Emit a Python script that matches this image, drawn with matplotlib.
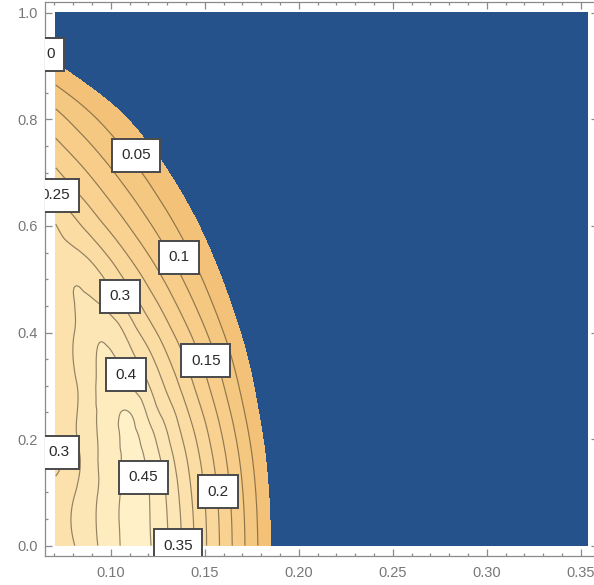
import numpy as np
import matplotlib
matplotlib.use('Agg')
import matplotlib.pyplot as plt
import matplotlib.tri as mtri

# sample positions of the field
X_COLS = [0.0707, 0.08, 0.09, 0.10, 0.11, 0.12, 0.13, 0.14, 0.15, 0.16,
          0.17, 0.18, 0.19, 0.20, 0.25, 0.30, 0.3536]
Y_ROWS = [0.0, 0.1, 0.15, 0.2, 0.25, 0.3, 0.4, 0.45, 0.5, 0.55, 0.6, 0.65,
          0.7, 0.75, 0.8, 0.85, 0.9, 0.95, 1.0]

# estimated values, one row per Y_ROWS entry (below 0 shows as the flat blue region)
Z_ROWS = [
    [0.322, 0.347, 0.388, 0.428, 0.465, 0.455, 0.404, 0.331, 0.257, 0.184, 0.110, 0.037, -0.037, -0.110, -0.478, -0.845, -1.239],
    [0.316, 0.345, 0.388, 0.428, 0.465, 0.452, 0.394, 0.321, 0.248, 0.175, 0.102, 0.029, -0.044, -0.117, -0.482, -0.847, -1.238],
    [0.293, 0.328, 0.385, 0.427, 0.463, 0.443, 0.380, 0.308, 0.236, 0.164, 0.092, 0.020, -0.052, -0.124, -0.484, -0.844, -1.230],
    [0.305, 0.340, 0.388, 0.430, 0.460, 0.425, 0.357, 0.287, 0.217, 0.147, 0.077, 0.007, -0.063, -0.133, -0.483, -0.833, -1.208],
    [0.310, 0.341, 0.388, 0.432, 0.450, 0.390, 0.326, 0.259, 0.192, 0.125, 0.058, -0.009, -0.076, -0.143, -0.478, -0.813, -1.170],
    [0.315, 0.342, 0.388, 0.428, 0.405, 0.353, 0.290, 0.227, 0.164, 0.101, 0.038, -0.025, -0.088, -0.151, -0.466, -0.781, -1.119],
    [0.320, 0.347, 0.388, 0.383, 0.330, 0.274, 0.218, 0.162, 0.106, 0.050, -0.006, -0.062, -0.118, -0.174, -0.454, -0.734, -1.034],
    [0.323, 0.348, 0.360, 0.330, 0.282, 0.230, 0.178, 0.126, 0.074, 0.022, -0.030, -0.082, -0.134, -0.186, -0.446, -0.706, -0.985],
    [0.325, 0.346, 0.328, 0.284, 0.236, 0.188, 0.140, 0.092, 0.044, -0.004, -0.052, -0.100, -0.148, -0.196, -0.436, -0.676, -0.933],
    [0.315, 0.310, 0.280, 0.236, 0.191, 0.147, 0.103, 0.059, 0.015, -0.029, -0.073, -0.117, -0.161, -0.205, -0.425, -0.645, -0.880],
    [0.302, 0.268, 0.228, 0.188, 0.148, 0.108, 0.068, 0.028, -0.012, -0.052, -0.092, -0.132, -0.172, -0.212, -0.412, -0.612, -0.826],
    [0.255, 0.220, 0.183, 0.146, 0.109, 0.072, 0.035, -0.002, -0.039, -0.076, -0.113, -0.150, -0.187, -0.224, -0.409, -0.594, -0.792],
    [0.208, 0.176, 0.142, 0.107, 0.072, 0.038, 0.003, -0.031, -0.066, -0.100, -0.135, -0.169, -0.204, -0.238, -0.411, -0.583, -0.768],
    [0.163, 0.133, 0.101, 0.068, 0.036, 0.003, -0.029, -0.062, -0.094, -0.127, -0.159, -0.192, -0.224, -0.257, -0.419, -0.582, -0.756],
    [0.119, 0.090, 0.059, 0.028, -0.003, -0.034, -0.065, -0.096, -0.127, -0.158, -0.189, -0.220, -0.251, -0.282, -0.437, -0.592, -0.758],
    [0.067, 0.039, 0.009, -0.021, -0.051, -0.081, -0.111, -0.141, -0.171, -0.201, -0.231, -0.261, -0.291, -0.321, -0.471, -0.621, -0.780],
    [0.008, -0.020, -0.050, -0.080, -0.110, -0.140, -0.170, -0.200, -0.230, -0.260, -0.290, -0.320, -0.350, -0.380, -0.530, -0.680, -0.840],
    [-0.050, -0.078, -0.108, -0.138, -0.168, -0.198, -0.228, -0.258, -0.288, -0.318, -0.348, -0.378, -0.408, -0.438, -0.588, -0.738, -0.900],
    [-0.110, -0.138, -0.168, -0.198, -0.228, -0.258, -0.288, -0.318, -0.348, -0.378, -0.408, -0.438, -0.468, -0.498, -0.648, -0.798, -0.960],
]

LEVELS = [0, 0.05, 0.1, 0.15, 0.2, 0.25, 0.3, 0.35, 0.4, 0.45]

# where the boxed labels sit: (level, x, y)
LABEL_SPOTS = [
    (0, 0.0678, 0.922),
    (0.05, 0.1135, 0.733),
    (0.25, 0.0703, 0.658),
    (0.1, 0.1365, 0.541),
    (0.3, 0.1048, 0.468),
    (0.4, 0.1080, 0.321),
    (0.15, 0.1505, 0.347),
    (0.3, 0.0725, 0.175),
    (0.45, 0.1175, 0.128),
    (0.2, 0.1570, 0.101),
    (0.35, 0.1357, 0.000),
]

BLUE = '#25528a'
BAND_COLORS = [BLUE, '#f3c278', '#f5c881', '#f7cd89', '#f9d292', '#fad79a',
               '#fbdca3', '#fce1ac', '#fde6b5', '#feebbe', '#fff0c7']

# normalising scales so the interpolation works on roughly even cells
SX, SY = 0.185, 0.98


def main():
    x = np.array(X_COLS)
    y = np.array(Y_ROWS)
    z = np.array(Z_ROWS)
    nx, ny = len(x), len(y)
    xx, yy = np.meshgrid(x, y)

    tris = []
    for j in range(ny - 1):
        for i in range(nx - 1):
            k = j * nx + i
            tris.append([k, k + 1, k + nx + 1])
            tris.append([k, k + nx + 1, k + nx])
    tris = np.array(tris)
    tri_n = mtri.Triangulation(xx.ravel() / SX, yy.ravel() / SY, tris)
    interp = mtri.CubicTriInterpolator(tri_n, z.ravel(), kind='min_E')
    ref_n, z_f = mtri.UniformTriRefiner(tri_n).refine_field(z.ravel(), interp, subdiv=4)
    tri_f = mtri.Triangulation(ref_n.x * SX, ref_n.y * SY, ref_n.triangles)

    fig = plt.figure(figsize=(5.94, 5.85), dpi=100)
    ax = fig.add_axes([45 / 594, 28.7 / 585, 553 / 594, 554.1 / 585])
    ax.set_xlim(0.0650, 0.3592)
    ax.set_ylim(-0.02, 1.02)

    fill_levels = [-10] + LEVELS + [1.0]
    ax.tricontourf(tri_f, z_f, levels=fill_levels, colors=BAND_COLORS)
    ax.tricontour(tri_f, z_f, levels=LEVELS[1:], colors='#3a2e1c',
                  linewidths=0.85, alpha=0.55)

    for val, lx, ly in LABEL_SPOTS:
        ax.text(lx, ly, f'{val:g}', ha='center', va='center', fontsize=11,
                family='Liberation Sans', color='#2a2a2a', zorder=10, clip_on=True,
                bbox=dict(boxstyle='square,pad=0.62', facecolor='white',
                          edgecolor='#4a4a4a', linewidth=1.4))

    ax.set_xticks(np.arange(0.10, 0.351, 0.05))
    ax.set_xticklabels([f'{v:.2f}' for v in np.arange(0.10, 0.351, 0.05)])
    ax.set_xticks(np.arange(0.07, 0.36, 0.01), minor=True)
    ax.set_yticks(np.arange(0, 1.01, 0.2))
    ax.set_yticklabels([f'{v:.1f}' for v in np.arange(0, 1.01, 0.2)])
    ax.set_yticks(np.arange(0, 1.01, 0.05), minor=True)

    ax.tick_params(which='both', direction='in', top=True, right=True,
                   color='#8a8a8a', width=0.9)
    ax.tick_params(which='major', length=5)
    ax.tick_params(which='minor', length=2.5)
    ax.tick_params(axis='x', pad=7, labelsize=10.5, labelcolor='#777777')
    ax.tick_params(axis='y', pad=5, labelsize=10.5, labelcolor='#777777')
    for lab in ax.get_xticklabels() + ax.get_yticklabels():
        lab.set_family('Liberation Sans')
    for sp in ax.spines.values():
        sp.set_color('#8a8a8a')
        sp.set_linewidth(0.9)

    fig.savefig('out.png', dpi=100, facecolor='white')
    plt.close(fig)


if __name__ == '__main__':
    main()
